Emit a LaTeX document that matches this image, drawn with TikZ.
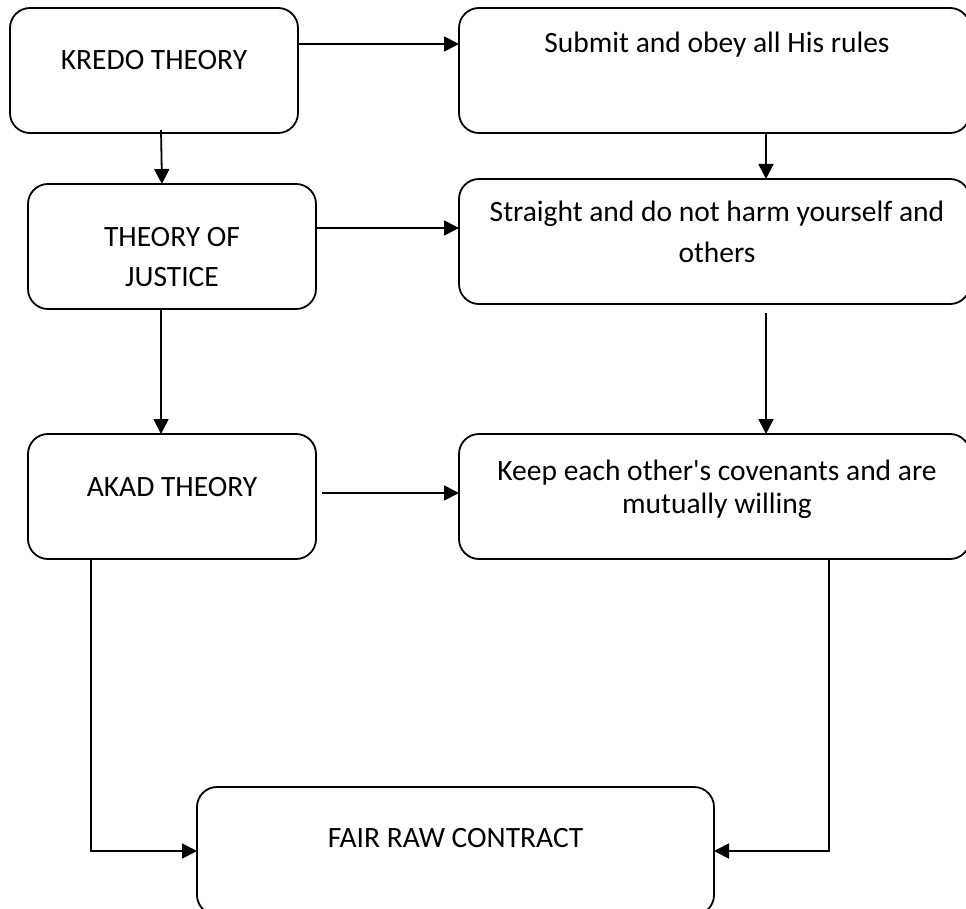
\documentclass[tikz,border=0pt]{standalone}
\usepackage{fontspec}
\setmainfont{Carlito}
\usetikzlibrary{arrows.meta,calc}
\begin{document}
\begin{tikzpicture}[x=1pt,y=-1pt,
  box/.style={draw, line width=1.8pt, rounded corners=20pt, inner sep=0pt, outer sep=0pt},
  txt/.style={anchor=base, inner sep=0pt, font=\fontsize{29.5}{35}\selectfont},
  arr/.style={line width=1.8pt, -{Triangle[length=15pt,width=15pt]}}]
\useasboundingbox (0,0) rectangle (966,909);
\clip (0,0) rectangle (966,909);
% boxes
\node[box, minimum width=288pt, minimum height=125pt] (B1) at (154,70.5) {};
\node[box, minimum width=511pt, minimum height=125pt] (B2) at (714.5,70.5) {};
\node[box, minimum width=288pt, minimum height=125pt] (B3) at (172,246.5) {};
\node[box, minimum width=511pt, minimum height=125pt] (B4) at (714.5,241.5) {};
\node[box, minimum width=288pt, minimum height=125pt] (B5) at (172,496.5) {};
\node[box, minimum width=511pt, minimum height=125pt] (B6) at (714.5,496.5) {};
\node[box, minimum width=517pt, minimum height=128pt] (B7) at (455.5,851) {};
% texts
\node[txt] (t1) at (154,70) {KREDO THEORY};
\node[txt] (t2) at (717,53) {Submit and obey all His rules};
\node[txt] (t3a) at (172,247) {THEORY OF};
\node[txt] (t3b) at (172,287) {JUSTICE};
\node[txt] (t4a) at (717,222) {Straight and do not harm yourself and};
\node[txt] (t4b) at (717,263) {others};
\node[txt] (t5) at (172,496) {AKAD THEORY};
\node[txt] (t6a) at (717,480) {Keep each other\textquotesingle s covenants and are};
\node[txt] (t6b) at (717,513) {mutually willing};
\node[txt] (t7) at (455.5,847) {FAIR RAW CONTRACT};
% connectors
\draw[arr] ($(B1.east)+(0,-26.5)$) -- ($(B2.west)+(0,-26.5)$);
\draw[arr] ($(B1.south)+(7,-3)$) -- ($(B3.north)+(-10,0)$);
\draw[arr] ($(B2.south)+(51.5,0)$) -- ($(B4.north)+(51.5,0)$);
\draw[arr] ($(B3.east)+(0,-18.5)$) -- ($(B4.west)+(0,-13.5)$);
\draw[arr] ($(B3.south)+(-11,0)$) -- ($(B5.north)+(-11,0)$);
\draw[arr] ($(B4.south)+(51.5,9)$) -- ($(B6.north)+(51.5,0)$);
\draw[arr] ($(B5.east)+(6,-3.5)$) -- ($(B6.west)+(0,-3.5)$);
\draw[arr] ($(B5.south)+(-81,0)$) |- (B7.west);
\draw[arr] ($(B6.south)+(114.5,0)$) |- (B7.east);
\end{tikzpicture}
\end{document}
